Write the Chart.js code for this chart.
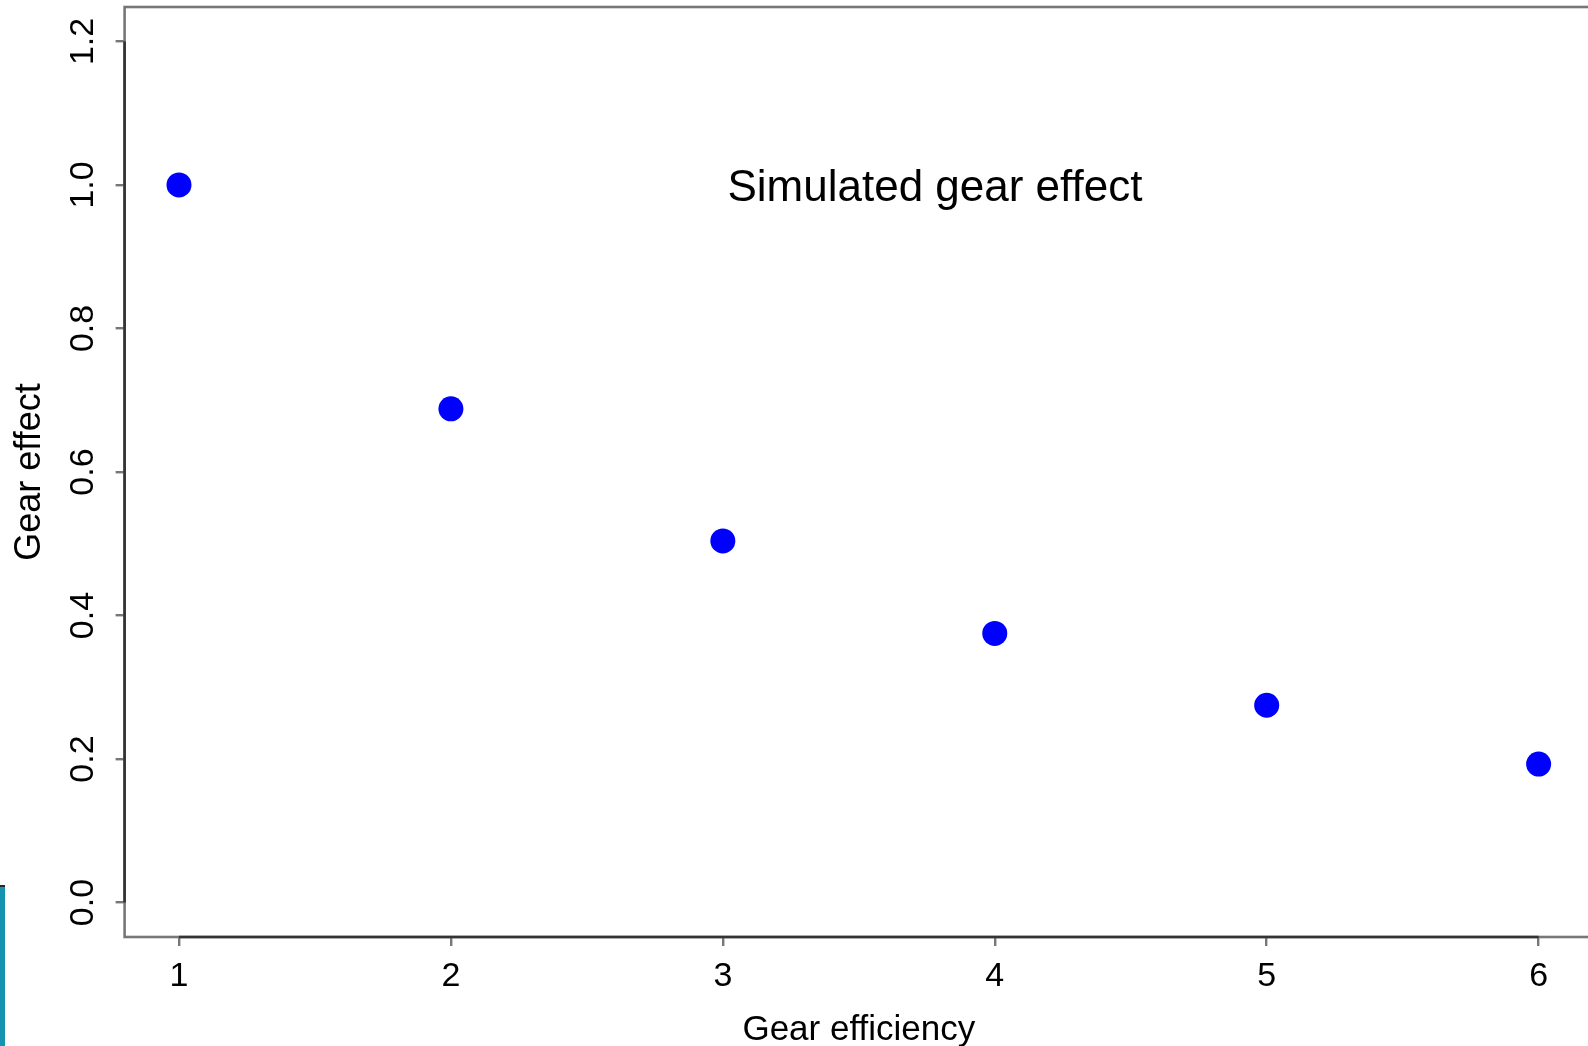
<!DOCTYPE html>
<html>
<head>
<meta charset="utf-8">
<script src="https://cdn.jsdelivr.net/npm/chart.js@4.4.1/dist/chart.umd.min.js"></script>
<style>
  html, body { margin: 0; padding: 0; background: #fff; overflow: hidden; }
  #wrap { position: relative; width: 1588px; height: 1046px; overflow: hidden; }
  #gear { display: block; }
  #edge { position: absolute; left: 0; top: 885px; width: 5px; height: 161px;
          background: #1793b2; border-top: 2px solid #1a2a30; }
</style>
</head>
<body>
<div id="wrap">
  <canvas id="gear" width="1600" height="1046"></canvas>
  <div id="edge"></div>
</div>
<script>
// gear number and its simulated effect
let gears = [1, 2, 3, 4, 5, 6];
let effects = [1.0, 0.688, 0.504, 0.375, 0.275, 0.193];

let xTicks = [1, 2, 3, 4, 5, 6];
let yTicks = [0, 0.2, 0.4, 0.6, 0.8, 1.0, 1.2];

let noteText = "Simulated gear effect";
let noteAt = { x: 3.78, y: 1.0 };

const FONT = "'Liberation Sans', Arial, Helvetica, sans-serif";

// R style frame: grey box plus darker axis line between first and last tick
const frame = {
    id: "frame",
    afterDatasetsDraw(chart) {
        const { ctx, chartArea: a, scales: { x, y } } = chart;
        ctx.save();
        ctx.strokeStyle = "#777";
        ctx.lineWidth = 2.6;
        ctx.strokeRect(a.left, a.top, a.right - a.left, a.bottom - a.top);

        ctx.strokeStyle = "#333";
        ctx.beginPath();
        ctx.moveTo(a.left, y.getPixelForValue(yTicks[0]));
        ctx.lineTo(a.left, y.getPixelForValue(yTicks[yTicks.length - 1]));
        ctx.moveTo(x.getPixelForValue(xTicks[0]), a.bottom);
        ctx.lineTo(x.getPixelForValue(xTicks[xTicks.length - 1]), a.bottom);
        ctx.stroke();

        // text label, centred on its data position like R's text()
        ctx.fillStyle = "#000";
        ctx.font = "44px " + FONT;
        ctx.textAlign = "center";
        ctx.textBaseline = "alphabetic";
        ctx.fillText(noteText, x.getPixelForValue(noteAt.x), y.getPixelForValue(noteAt.y) + 16);
        ctx.restore();
    },
};

new Chart("gear", {
    type: "scatter",
    data: {
        datasets: [{
            data: gears.map((g, i) => ({ x: g, y: effects[i] })),
            backgroundColor: "#0000ff",
            borderWidth: 0,
            pointRadius: 12.5,
            pointHoverRadius: 12.5,
        }],
    },
    options: {
        responsive: false,
        animation: false,
        events: [],
        layout: { autoPadding: false, padding: { top: 7, right: 7, left: 0, bottom: 0 } },
        plugins: { legend: { display: false }, tooltip: { enabled: false } },
        scales: {
            x: {
                type: "linear",
                min: 0.8,
                max: 6.2,
                afterBuildTicks: (s) => { s.ticks = xTicks.map((v) => ({ value: v })); },
                afterFit: (s) => { s.height = 109; s.paddingLeft = 0; s.paddingRight = 0; },
                grid: { drawOnChartArea: false, drawTicks: true, tickLength: 9, color: "#777", lineWidth: 2.4 },
                border: { display: false },
                ticks: {
                    color: "#000",
                    font: { family: FONT, size: 34 },
                    padding: 10,
                    maxRotation: 0,
                    callback: (v) => String(v),
                },
                title: {
                    display: true,
                    text: "Gear efficiency",
                    color: "#000",
                    font: { family: FONT, size: 35 },
                    padding: { top: 0, bottom: -5 },
                },
            },
            y: {
                type: "linear",
                min: -0.048,
                max: 1.248,
                afterBuildTicks: (s) => { s.ticks = yTicks.map((v) => ({ value: v })); },
                afterFit: (s) => { s.width = 124.6; s.paddingTop = 0; s.paddingBottom = 0; },
                grid: { drawOnChartArea: false, drawTicks: true, tickLength: 9, color: "#777", lineWidth: 2.4 },
                border: { display: false },
                ticks: {
                    color: "#000",
                    font: { family: FONT, size: 34 },
                    minRotation: 90,
                    maxRotation: 90,
                    crossAlign: "center",
                    padding: 8,
                    callback: (v) => v.toFixed(1),
                },
                title: {
                    display: true,
                    text: "Gear effect",
                    color: "#000",
                    font: { family: FONT, size: 36 },
                    padding: { top: 8, bottom: 0 },
                },
            },
        },
    },
    plugins: [frame],
});
</script>
</body>
</html>
